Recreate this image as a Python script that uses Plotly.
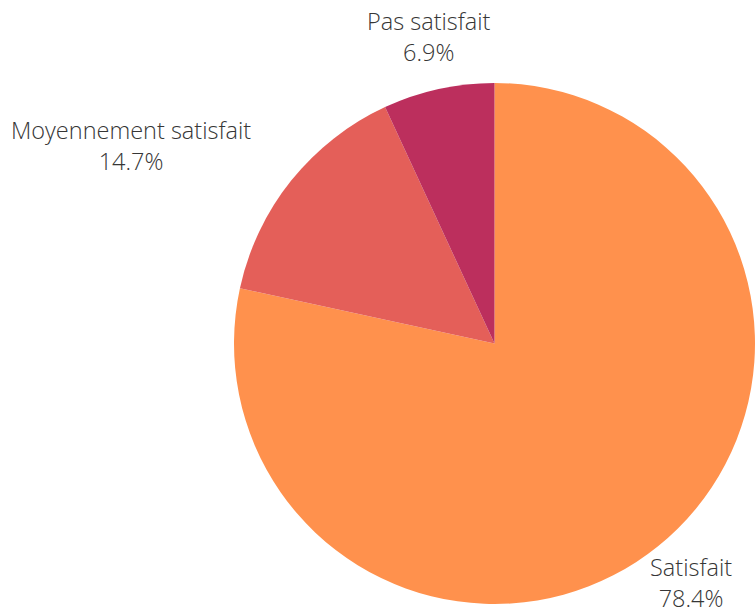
import plotly.graph_objects as go

labels = ["Satisfait", "Moyennement satisfait", "Pas satisfait"]
values = [78.4, 14.7, 6.9]
colors = ["#FF914D", "#E45F59", "#BC2F5D"]

# label anchor positions (pixel centers) for the outside labels
label_px = [(691, 582), (131, 145), (429, 36)]

W, H = 755, 612

fig = go.Figure(go.Pie(
    labels=labels,
    values=values,
    sort=False,
    direction="clockwise",
    rotation=0,
    marker=dict(colors=colors, line=dict(width=0)),
    textinfo="none",
    hoverinfo="label+percent",
    domain=dict(x=[234 / W, 1.0], y=[(H - 605) / H, (H - 82) / H]),
    showlegend=False,
))

total = sum(values)
for lab, val, (px, py) in zip(labels, values, label_px):
    fig.add_annotation(
        x=px / W, y=1 - py / H, xref="paper", yref="paper",
        xanchor="center", yanchor="middle",
        text=f"{lab}<br>{val / total * 100:.1f}%",
        showarrow=False, align="center",
        font=dict(family="Open Sans", size=23.5, color="#363636", weight=300),
    )

fig.update_layout(
    width=W, height=H,
    margin=dict(l=0, r=0, t=0, b=0),
    paper_bgcolor="white", plot_bgcolor="white",
)

fig.write_html(
    "out.html",
    config={"displayModeBar": False},
    post_script="document.body.style.margin='0';document.body.style.overflow='hidden';",
)
